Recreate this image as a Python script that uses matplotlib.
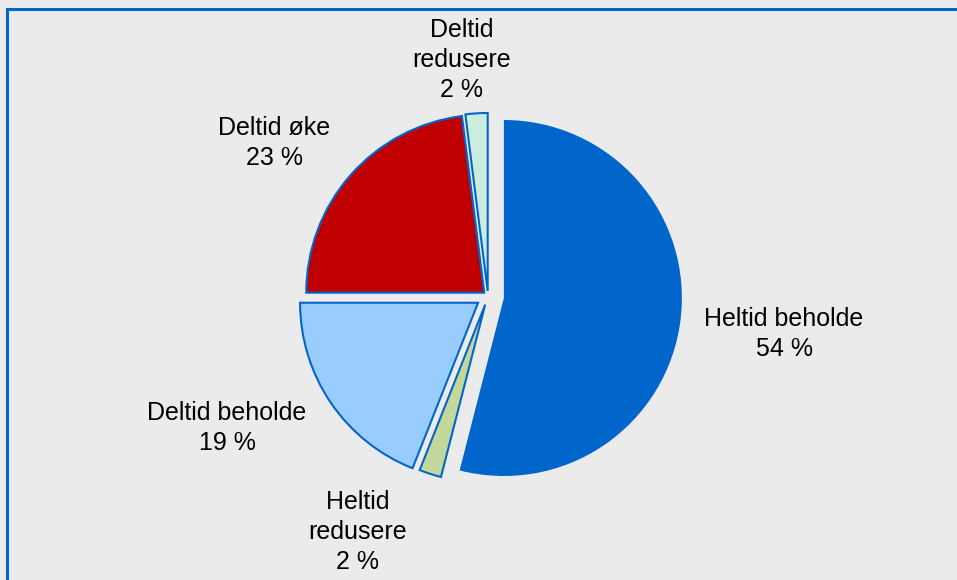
import matplotlib.pyplot as plt
from matplotlib.patches import Rectangle

plt.rcParams['font.family'] = ['Liberation Sans', 'DejaVu Sans']

# andeler, med klokka fra toppen
kategorier = ["Heltid beholde", "Heltid\nredusere", "Deltid beholde",
              "Deltid øke", "Deltid\nredusere"]
andeler = [54, 2, 19, 23, 2]
farger = ["#0066CC", "#C4D79B", "#99CCFF", "#C00000", "#CCECDD"]
utskyv = [16, 9, 12, 5, 5]

# etikettplassering i piksler (y oppover)
etikett_pos = [(784, 246), (358, 48), (227, 152), (274, 437), (462, 520)]

fig = plt.figure(figsize=(9.57, 5.8), dpi=100)
fig.patch.set_facecolor("#EBEBEB")
ax = fig.add_axes([0, 0, 1, 1])

wedges, _ = ax.pie(andeler, colors=farger, explode=utskyv, startangle=90,
                   counterclock=False, center=(488, 284), radius=178,
                   wedgeprops=dict(edgecolor="#0066CC", linewidth=1.5))
wedges[0].set_linewidth(0)

# pie() setter egne grenser, saa de maa settes etterpaa
ax.set_xlim(0, 957)
ax.set_ylim(0, 580)
ax.set_aspect("equal")
ax.axis("off")

# ramme rundt diagramomraadet
ax.add_patch(Rectangle((7, -20), 1000, 591, fill=False, ec="#0066CC",
                       lw=2.2, clip_on=False))

for navn, verdi, (x, y) in zip(kategorier, andeler, etikett_pos):
    ax.text(x, y, f"{navn}\n{verdi} %", ha="center", va="center",
            fontsize=18, color="#000000", linespacing=1.3)

fig.savefig("out.png", dpi=100, facecolor=fig.get_facecolor())
